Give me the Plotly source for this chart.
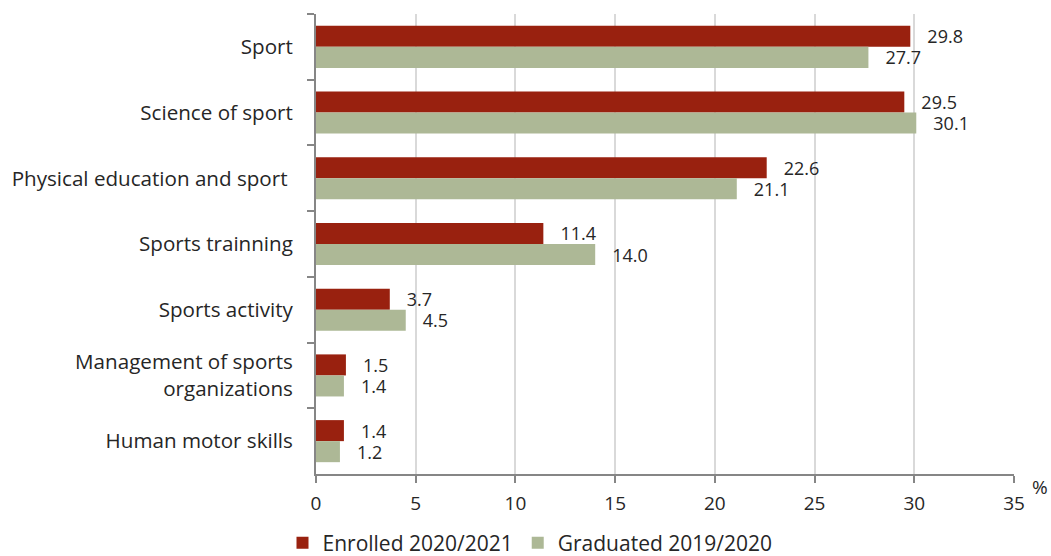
import plotly.graph_objects as go

categories = [
    "Sport",
    "Science of sport",
    "Physical education and sport ",
    "Sports trainning",
    "Sports activity",
    "Management of sports<br>organizations",
    "Human motor skills",
]
enrolled = [29.8, 29.5, 22.6, 11.4, 3.7, 1.5, 1.4]
graduated = [27.7, 30.1, 21.1, 14.0, 4.5, 1.4, 1.2]
series_names = ["Enrolled 2020/2021", "Graduated 2019/2020"]
x_ticks = [0, 5, 10, 15, 20, 25, 30, 35]

RED = "#99210F"
GREEN = "#ADB896"
FONT = "Open Sans, Noto Sans, sans-serif"
TXT = "#262626"
PAD = "\u00a0\u00a0\u00a0"

fig = go.Figure()
for name, vals, col in [(series_names[0], enrolled, RED), (series_names[1], graduated, GREEN)]:
    fig.add_trace(go.Bar(
        y=categories, x=vals, name=name, orientation="h",
        marker=dict(color=col, line=dict(width=0)),
        text=[f"{PAD}{v:.1f}" for v in vals], textposition="outside",
        constraintext="none",
        textfont=dict(family=FONT, size=18, color=TXT),
        cliponaxis=False,
    ))

fig.update_layout(
    width=1051, height=556,
    margin=dict(l=316, r=37, t=14, b=82, autoexpand=False),
    paper_bgcolor="white", plot_bgcolor="white",
    barmode="group", bargap=0.36, bargroupgap=0,
    font=dict(family=FONT, size=19, color=TXT),
    legend=dict(orientation="h", x=(530 - 316) / 698, xanchor="center",
                y=-(543 - 474) / 460, yanchor="middle",
                font=dict(size=21, color=TXT), traceorder="normal", itemwidth=30),
    showlegend=True,
)
fig.update_xaxes(
    range=[0, 35], tickvals=x_ticks, showgrid=True, gridcolor="#D9D9D9", gridwidth=2,
    showline=True, linecolor="#868686", linewidth=2, ticks="outside", ticklen=7,
    tickcolor="#868686", tickwidth=2, zeroline=False, tickfont=dict(size=19, color=TXT),
    ticklabelstandoff=4,
)
fig.update_yaxes(
    autorange="reversed", showline=True, linecolor="#868686", linewidth=2,
    ticks="outside", ticklen=7, tickcolor="#868686", tickwidth=2, tickson="boundaries",
    tickfont=dict(size=20.6, color=TXT), showgrid=False, ticklabelstandoff=17,
)
fig.add_annotation(text="%", xref="x domain", yref="y domain",
                   x=(1040 - 316) / 698, y=-(487 - 474) / 460,
                   xanchor="center", yanchor="middle", showarrow=False,
                   font=dict(size=19, color=TXT))

fig.write_html("out.html")
